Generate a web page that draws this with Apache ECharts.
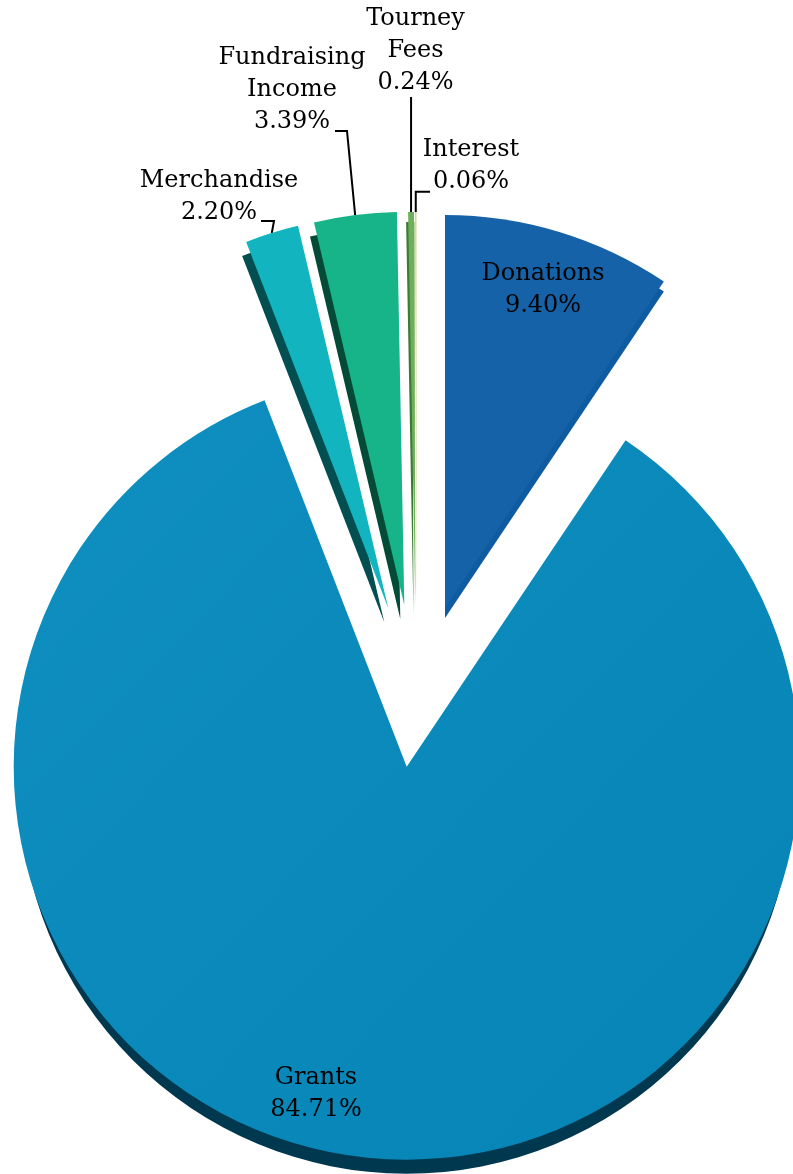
<!DOCTYPE html>
<html><head><meta charset="utf-8">
<script src="https://cdn.jsdelivr.net/npm/echarts@6/dist/echarts.min.js"></script>
<style>html,body{margin:0;padding:0;background:#fff}#chart{width:793px;height:1174px}</style>
</head><body><div id="chart"></div>
<script>
// ---- data ----
const categories = ['Donations', 'Grants', 'Merchandise', 'Fundraising Income', 'Tourney Fees', 'Interest'];
const percentages = [9.40, 84.71, 2.20, 3.39, 0.24, 0.06];

// ---- styles ----
const faceColors = ['#1562A8',
  {type:'linear', x:0, y:0, x2:1, y2:1, colorStops:[{offset:0, color:'#0F8EC0'}, {offset:1, color:'#0684B6'}]},
  '#12B5BF', '#17B48A', '#6CB05A', '#C8DB8C'];
const sideColors = ['#0E5BA2', '#00384F', '#024E50', '#034B36', '#3D7A34', '#8FA85A'];

// ---- per-slice layout (explosion offsets, label placement) ----
// line points: null x means "same x as the anchor on the slice"
const layout = [
  {center:[445, 608], side:[0, 10], r:393, label:{x:543, y:290}, inside:true},
  {center:[406.7, 766.7], side:[0, 20], sideR:387, r:393, label:{x:316, y:1094}, inside:true},
  {center:[388.3, 608.3], side:[-4, 14], r:393, label:{x:219, y:197}, line:[[274, 221], [261, 221]]},
  {center:[404.3, 605], side:[-4, 14], r:393, label:{x:292, y:90}, line:[[347, 131], [335, 131]]},
  {center:[415.5, 605], side:[-2, 10], r:393, label:{x:415.5, y:51}, line:[[null, 97]]},
  {center:[416.5, 605], side:[-2, 10], r:393, label:{x:471, y:166}, line:[[null, 191.7], [430, 191.7]]}
];

function buildData(k, colors, withLabel) {
  return categories.map((name, i) => {
    const item = {name: name, value: percentages[i]};
    if (i === k) {
      item.itemStyle = {color: colors[i], opacity: 1};
      item.label = {show: withLabel};
      item.labelLine = {show: withLabel && !layout[k].inside};
    } else {
      item.itemStyle = {color: 'rgba(0,0,0,0)', opacity: 0};
      item.label = {show: false};
      item.labelLine = {show: false};
    }
    return item;
  });
}

function startPoint(k) {
  let cum = 0;
  for (let i = 0; i < k; i++) cum += percentages[i];
  const total = percentages.reduce((a, b) => a + b, 0);
  const mid = (cum + percentages[k] / 2) / total * 2 * Math.PI;
  const L = layout[k];
  return [L.center[0] + L.r * Math.sin(mid), L.center[1] - L.r * Math.cos(mid)];
}

const series = [];
categories.forEach((c, k) => {
  const L = layout[k];
  series.push({
    type: 'pie', z: 1, silent: true, animation: false,
    center: [L.center[0] + L.side[0], L.center[1] + L.side[1]],
    radius: L.sideR || L.r,
    startAngle: 90, clockwise: true,
    label: {show: false}, labelLine: {show: false},
    emphasis: {disabled: true},
    data: buildData(k, sideColors, false)
  });
});
categories.forEach((c, k) => {
  const L = layout[k];
  series.push({
    type: 'pie', z: 2, silent: true, animation: false,
    center: L.center, radius: L.r,
    startAngle: 90, clockwise: true,
    avoidLabelOverlap: false,
    emphasis: {disabled: true},
    label: {
      show: true,
      position: L.inside ? 'inside' : 'outside',
      fontFamily: 'DejaVu Serif', fontSize: 24, lineHeight: 32, color: '#000',
      align: 'center',
      formatter: p => p.name.replace(' ', '\n') + '\n' + p.value.toFixed(2) + '%'
    },
    labelLine: {show: !L.inside, length: 10, length2: 10, lineStyle: {color: '#000', width: 2}},
    labelLayout: function (params) {
      const out = {x: L.label.x, y: L.label.y, align: 'center', verticalAlign: 'middle'};
      if (!L.inside) {
        const p0 = (params.labelLinePoints && params.labelLinePoints[0]) || startPoint(k);
        out.labelLinePoints = [p0].concat(L.line.map(pt => [pt[0] == null ? p0[0] : pt[0], pt[1]]));
      }
      return out;
    },
    data: buildData(k, faceColors, true)
  });
});

const chart = echarts.init(document.getElementById('chart'), null, {renderer: 'canvas'});
chart.setOption({backgroundColor: '#fff', animation: false, series: series});
</script>
</body></html>
